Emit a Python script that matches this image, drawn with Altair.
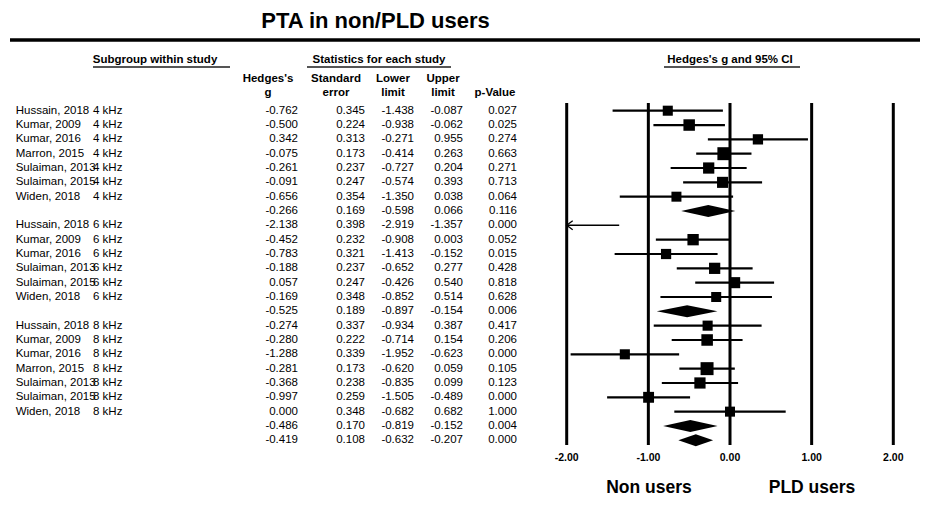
import altair as alt
import pandas as pd

# ---------------- data ----------------
studies = ["Hussain, 2018", "Kumar, 2009", "Kumar, 2016", "Marron, 2015", "Sulaiman, 2013",
           "Sulaiman, 2015", "Widen, 2018", "",
           "Hussain, 2018", "Kumar, 2009", "Kumar, 2016", "Sulaiman, 2013", "Sulaiman, 2015",
           "Widen, 2018", "",
           "Hussain, 2018", "Kumar, 2009", "Kumar, 2016", "Marron, 2015", "Sulaiman, 2013",
           "Sulaiman, 2015", "Widen, 2018", "", ""]
freqs = ["4 kHz"] * 7 + [""] + ["6 kHz"] * 6 + [""] + ["8 kHz"] * 7 + ["", ""]
g_vals = [-0.762, -0.500, 0.342, -0.075, -0.261, -0.091, -0.656, -0.266,
          -2.138, -0.452, -0.783, -0.188, 0.057, -0.169, -0.525,
          -0.274, -0.280, -1.288, -0.281, -0.368, -0.997, 0.000, -0.486, -0.419]
se_vals = [0.345, 0.224, 0.313, 0.173, 0.237, 0.247, 0.354, 0.169,
           0.398, 0.232, 0.321, 0.237, 0.247, 0.348, 0.189,
           0.337, 0.222, 0.339, 0.173, 0.238, 0.259, 0.348, 0.170, 0.108]
lower_vals = [-1.438, -0.938, -0.271, -0.414, -0.727, -0.574, -1.350, -0.598,
              -2.919, -0.908, -1.413, -0.652, -0.426, -0.852, -0.897,
              -0.934, -0.714, -1.952, -0.620, -0.835, -1.505, -0.682, -0.819, -0.632]
upper_vals = [-0.087, -0.062, 0.955, 0.263, 0.204, 0.393, 0.038, 0.066,
              -1.357, 0.003, -0.152, 0.277, 0.540, 0.514, -0.154,
              0.387, 0.154, -0.623, 0.059, 0.099, -0.489, 0.682, -0.152, -0.207]
p_vals = [0.027, 0.025, 0.274, 0.663, 0.271, 0.713, 0.064, 0.116,
          0.000, 0.052, 0.015, 0.428, 0.818, 0.628, 0.006,
          0.417, 0.206, 0.000, 0.105, 0.123, 0.000, 1.000, 0.004, 0.000]
kinds = ["study"] * 7 + ["summary"] + ["study"] * 6 + ["summary"] + ["study"] * 7 + ["summary", "overall"]

tick_values = [-2, -1, 0, 1, 2]
tick_labels = ["-2.00", "-1.00", "0.00", "1.00", "2.00"]

title_text = "PTA in non/PLD users"
section_headers = ["Subgroup within study", "Statistics for each study", "Hedges's g and 95% CI"]
col_header_top = ["Hedges's", "Standard", "Lower", "Upper", ""]
col_header_bottom = ["g", "error", "limit", "limit", "p-Value"]
side_labels = ["Non users", "PLD users"]

# ---------------- table ----------------
df = pd.DataFrame({
    "row": list(range(len(studies))),
    "study": studies, "freq": freqs,
    "g": g_vals, "se": se_vals, "lower": lower_vals, "upper": upper_vals, "p": p_vals,
    "kind": kinds,
})
for c in ["g", "se", "lower", "upper", "p"]:
    df[c + "_s"] = [f"{v:.3f}" for v in df[c]]

ticks = pd.DataFrame({"v": tick_values, "lab": tick_labels})

FONT = "Liberation Sans"
xs = alt.Scale(domain=[-2, 2], range=[558.7, 885.3], clamp=True, nice=False, zero=False)
ys = alt.Scale(domain=[0, 23], range=[102.7, 432.3], nice=False, zero=False)

base = alt.Chart(df)
layers = []

# title + top rule
layers.append(alt.Chart(pd.DataFrame({"t": [title_text]})).mark_text(
    font=FONT, fontSize=22, fontWeight="bold", align="center", baseline="middle", color="black"
).encode(x=alt.value(367.5), y=alt.value(12.5), text="t:N"))
layers.append(alt.Chart(pd.DataFrame({"t": [0]})).mark_rule(color="black", strokeWidth=3.5).encode(
    x=alt.value(2), x2=alt.value(920), y=alt.value(32)))

# section headers with underlines
sec_x = [147, 371, 722]
sec_line = [(85, 222), (299, 443), (656, 792)]
for txt, cx, (l0, l1) in zip(section_headers, sec_x, sec_line):
    layers.append(alt.Chart(pd.DataFrame({"t": [txt]})).mark_text(
        font=FONT, fontSize=11.5, fontWeight="bold", align="center", baseline="middle", color="black"
    ).encode(x=alt.value(cx), y=alt.value(52), text="t:N"))
    layers.append(alt.Chart(pd.DataFrame({"t": [0]})).mark_rule(color="#555555", strokeWidth=2).encode(
        x=alt.value(l0), x2=alt.value(l1), y=alt.value(59)))

# column headers
col_cx = [260, 328, 385, 435, 487]
for top, bot, cx in zip(col_header_top, col_header_bottom, col_cx):
    for txt, yy in [(top, 71), (bot, 85)]:
        if txt:
            layers.append(alt.Chart(pd.DataFrame({"t": [txt]})).mark_text(
                font=FONT, fontSize=11.5, fontWeight="bold", align="center", baseline="middle", color="black"
            ).encode(x=alt.value(cx), y=alt.value(yy), text="t:N"))

# row texts
y_enc = alt.Y("row:Q", scale=ys, axis=None)
layers.append(base.mark_text(font=FONT, fontSize=11.5, align="left", baseline="middle", color="black").encode(
    x=alt.value(7.7), y=y_enc, text="study:N"))
layers.append(base.mark_text(font=FONT, fontSize=11.5, align="left", baseline="middle", color="black").encode(
    x=alt.value(85), y=y_enc, text="freq:N"))
col_right = {"g_s": 290, "se_s": 357, "lower_s": 406, "upper_s": 455, "p_s": 509}
for col, rx in col_right.items():
    layers.append(base.mark_text(font=FONT, fontSize=11.5, align="right", baseline="middle", color="black").encode(
        x=alt.value(rx), y=y_enc, text=f"{col}:N"))

# forest plot: vertical reference lines
layers.append(alt.Chart(ticks).mark_rule(color="black", strokeWidth=3).encode(
    x=alt.X("v:Q", scale=xs, axis=None), y=alt.value(95), y2=alt.value(437)))
layers.append(alt.Chart(ticks).mark_text(font=FONT, fontSize=10.5, fontWeight="bold", align="center",
                                         baseline="middle", color="black").encode(
    x=alt.X("v:Q", scale=xs, axis=None), y=alt.value(450), text="lab:N"))

# CI lines
layers.append(base.transform_filter("datum.kind == 'study' && datum.lower >= -2").mark_rule(
    color="black", strokeWidth=2.2).encode(
    x=alt.X("lower:Q", scale=xs, axis=None), x2="upper:Q", y=y_enc))
layers.append(base.transform_filter("datum.kind == 'study' && datum.lower < -2").mark_rule(
    color="black", strokeWidth=1.5).encode(
    x=alt.X("lower:Q", scale=xs, axis=None), x2="upper:Q", y=y_enc))
# arrow head for truncated CI
layers.append(base.transform_filter("datum.kind == 'study' && datum.lower < -2").mark_point(
    shape="M0.67,-1L-0.67,0L0.67,1", size=81, filled=False, color="black", strokeWidth=1.3,
    xOffset=3, opacity=1).encode(
    x=alt.X("lower:Q", scale=xs, axis=None), y=y_enc))

# squares sized by weight
layers.append(base.transform_filter("datum.kind == 'study' && datum.g >= -2").transform_calculate(
    w="1 / (datum.se * datum.se)").mark_square(color="black", filled=True, opacity=1).encode(
    x=alt.X("g:Q", scale=xs, axis=None), y=y_enc,
    size=alt.Size("w:Q", scale=alt.Scale(domain=[8, 34], range=[100, 170]), legend=None)))

# diamonds for summaries (polygon: lower -> g (top) -> upper, band between ya and yb)
layers.append(base.transform_filter("datum.kind != 'study'").transform_fold(
    ["lower", "g", "upper"], as_=["key", "xv"]).transform_calculate(
    half="datum.key == 'g' ? 0.42 : 0").transform_calculate(
    ya="datum.row - datum.half").transform_calculate(
    yb="datum.row + datum.half").mark_area(
    color="black", opacity=1, orient="vertical", interpolate="linear").encode(
    x=alt.X("xv:Q", scale=xs, axis=None, stack=None),
    y=alt.Y("ya:Q", scale=ys, axis=None, stack=None), y2="yb:Q",
    detail="row:N"))

# bottom labels
for txt, cx in zip(side_labels, [641, 804]):
    layers.append(alt.Chart(pd.DataFrame({"t": [txt]})).mark_text(
        font=FONT, fontSize=17.5, fontWeight="bold", align="center", baseline="middle", color="black"
    ).encode(x=alt.value(cx), y=alt.value(480), text="t:N"))

chart = alt.layer(*layers).properties(
    width=912, height=503, autosize=alt.AutoSizeParams(type="none"), padding=0
).configure_view(stroke=None)

chart.save("out.html", embed_options={"renderer": "svg", "actions": False})
